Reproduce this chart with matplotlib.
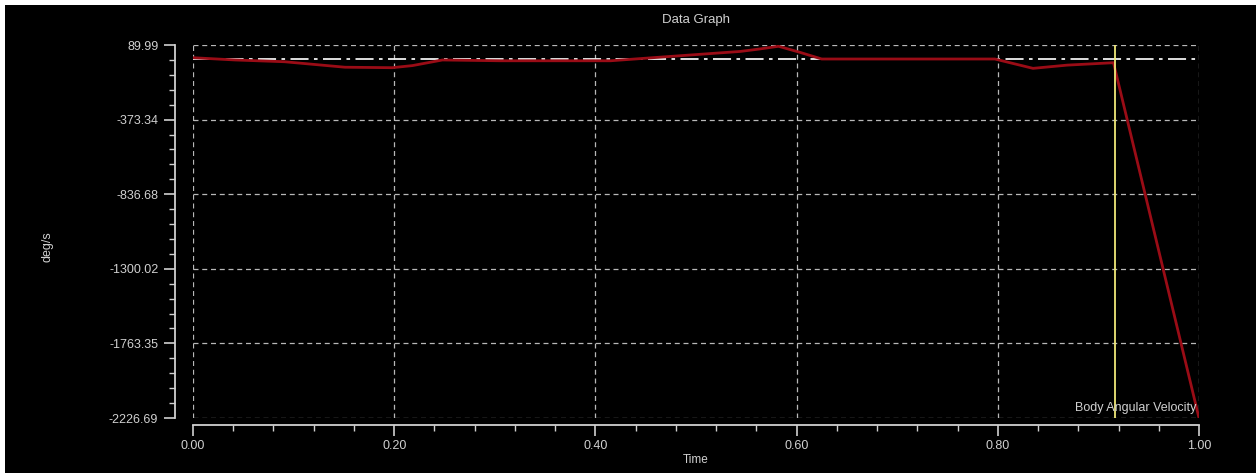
import numpy as np
import matplotlib
matplotlib.use('Agg')
import matplotlib.pyplot as plt
from matplotlib.ticker import FixedLocator, AutoMinorLocator
from matplotlib.patches import Rectangle

plt.rcParams['font.family'] = ['Liberation Sans', 'DejaVu Sans']

# values
time = [0.0, 0.042, 0.091, 0.151, 0.198, 0.218, 0.248, 0.305, 0.415, 0.47,
        0.544, 0.563, 0.582, 0.603, 0.625, 0.703, 0.797, 0.835, 0.869, 0.915, 1.0]
omega = [11, -3, -14, -48, -51, -38, -3, -8, -8, 17,
         50, 65, 82, 45, 3, 3, 3, -55, -35, -20, -2226.69]

y_ticks = [89.99, -373.34, -836.68, -1300.02, -1763.35, -2226.69]
y_labels = ['89.99', '-373.34', '-836.68', '-1300.02', '-1763.35', '-2226.69']
x_ticks = [0.0, 0.2, 0.4, 0.6, 0.8, 1.0]
x_labels = ['0.00', '0.20', '0.40', '0.60', '0.80', '1.00']
cursor_t = 0.9165
ref_value = 0.0

fg = '#d0d0d0'
W, H = 1256, 473
fig = plt.figure(figsize=(W / 100, H / 100), dpi=100, facecolor='white')
fig.patches.append(Rectangle((5 / W, 0), 1, (H - 5) / H, transform=fig.transFigure,
                             facecolor='black', edgecolor='none', zorder=-10))

ax = fig.add_axes([193 / W, 1 - 418 / H, (1199 - 193) / W, (418 - 45) / H])
ax.set_facecolor('black')

ax.plot(time, omega, color='#9a0c16', lw=2.0, zorder=3)
ax.axhline(ref_value, color='#f0f0f0', lw=1.3, ls=(0, (10, 3, 2, 3)), zorder=2)
ax.axvline(cursor_t, color='#f0e878', lw=1.3, zorder=4)

ax.set_xlim(0, 1)
ax.set_ylim(y_ticks[-1], y_ticks[0])
ax.xaxis.set_major_locator(FixedLocator(x_ticks))
ax.set_xticklabels(x_labels)
ax.yaxis.set_major_locator(FixedLocator(y_ticks))
ax.set_yticklabels(y_labels)
ax.xaxis.set_minor_locator(AutoMinorLocator(5))
ax.yaxis.set_minor_locator(AutoMinorLocator(5))

ax.grid(True, which='major', color='#b8b8b8', ls=(0, (4, 3)), lw=0.9)
for s in ['top', 'right']:
    ax.spines[s].set_visible(False)
ax.spines['left'].set_position(('outward', 13))
ax.spines['bottom'].set_position(('outward', 5))
for s in ['left', 'bottom']:
    ax.spines[s].set_color(fg)
    ax.spines[s].set_linewidth(1.3)

ax.tick_params(which='major', colors=fg, length=8, width=1.2, labelsize=9, pad=3)
ax.tick_params(which='minor', colors=fg, length=4, width=1)
ax.tick_params(axis='y', pad=4)

ax.set_title('Data Graph', color=fg, fontsize=9.5, pad=16)
ax.set_xlabel('Time', color=fg, fontsize=8.5, labelpad=1)
fig.text(47 / W, 1 - 247 / H, 'deg/s', rotation=90, ha='center', va='center',
         color=fg, fontsize=9)

ax.text(0.997, 0.012, 'Body Angular Velocity', transform=ax.transAxes,
        ha='right', va='bottom', color=fg, fontsize=9, zorder=5)

fig.savefig('out.png', dpi=100, facecolor=fig.get_facecolor())
